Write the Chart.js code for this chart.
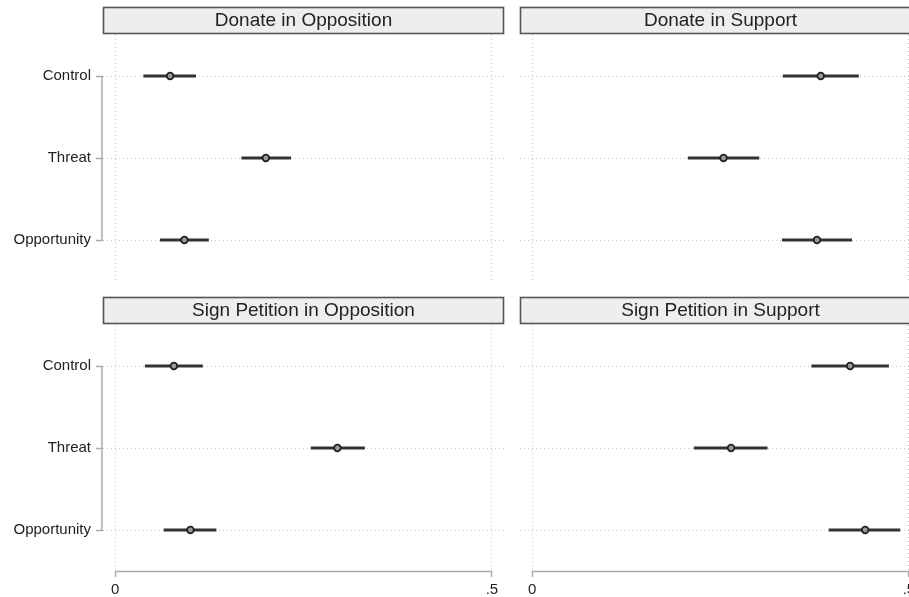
<!DOCTYPE html>
<html>
<head>
<meta charset="utf-8">
<script src="https://cdn.jsdelivr.net/npm/chart.js@4/dist/chart.umd.min.js"></script>
<style>
  html, body { margin: 0; padding: 0; background: #ffffff; overflow: hidden; width: 909px; height: 597px; }
  .panel { position: absolute; }
</style>
</head>
<body>
<div class="panel" style="left:0px;top:0px"><canvas id="p1" width="515" height="290"></canvas></div>
<div class="panel" style="left:417px;top:0px"><canvas id="p2" width="515" height="290"></canvas></div>
<div class="panel" style="left:0px;top:290px"><canvas id="p3" width="515" height="307"></canvas></div>
<div class="panel" style="left:417px;top:290px"><canvas id="p4" width="515" height="307"></canvas></div>
<script>
// Treatment groups (rows of every panel)
const categories = ['Control', 'Threat', 'Opportunity'];

// Panel titles
const panelTitles = ['Donate in Opposition', 'Donate in Support', 'Sign Petition in Opposition', 'Sign Petition in Support'];

// Point estimates and confidence bounds, one array per panel
const donateOppEst = [0.073, 0.200, 0.092];
const donateOppLo  = [0.038, 0.168, 0.060];
const donateOppHi  = [0.107, 0.233, 0.124];

const donateSupEst = [0.383, 0.254, 0.378];
const donateSupLo  = [0.333, 0.207, 0.332];
const donateSupHi  = [0.433, 0.301, 0.424];

const petitionOppEst = [0.078, 0.295, 0.100];
const petitionOppLo  = [0.040, 0.260, 0.065];
const petitionOppHi  = [0.116, 0.331, 0.134];

const petitionSupEst = [0.422, 0.264, 0.442];
const petitionSupLo  = [0.371, 0.215, 0.394];
const petitionSupHi  = [0.473, 0.312, 0.488];

// X axis ticks
const xTickValues = [0, 0.5];
const xTickLabels = ['0', '.5'];

Chart.defaults.font.family = "'Liberation Sans', Arial, Helvetica, sans-serif";
Chart.defaults.font.size = 15;
Chart.defaults.color = '#222222';

// Strip header above each plot area, plus partial axis lines
const panelDecor = {
  id: 'panelDecor',
  afterDraw(chart, args, opts) {
    const ctx = chart.ctx;
    const a = chart.chartArea;
    const xs = chart.scales.x, ys = chart.scales.y;
    ctx.save();
    // header strip
    const top = a.top - 28, h = 26;
    ctx.fillStyle = '#eeeeee';
    ctx.fillRect(a.left, top, a.right - a.left, h);
    ctx.strokeStyle = '#555555';
    ctx.lineWidth = 1.6;
    ctx.strokeRect(a.left + 0.5, top + 0.5, a.right - a.left - 1, h);
    ctx.fillStyle = '#222222';
    ctx.font = "19px 'Liberation Sans', Arial, sans-serif";
    ctx.textAlign = 'center';
    ctx.textBaseline = 'middle';
    ctx.fillText(opts.title, (a.left + a.right) / 2, top + h / 2 + 1);
    // y axis line between first and last category
    ctx.strokeStyle = '#aaaaaa';
    ctx.lineWidth = 1.5;
    if (opts.showY) {
      const y0 = ys.getPixelForValue(0), y1 = ys.getPixelForValue(categories.length - 1);
      ctx.beginPath();
      ctx.moveTo(a.left - 1, y0);
      ctx.lineTo(a.left - 1, y1);
      ctx.stroke();
    }
    // x axis line between first and last tick
    if (opts.showX) {
      const x0 = xs.getPixelForValue(xTickValues[0]);
      const x1 = xs.getPixelForValue(xTickValues[xTickValues.length - 1]);
      ctx.beginPath();
      ctx.moveTo(x0, a.bottom + 0.5);
      ctx.lineTo(x1, a.bottom + 0.5);
      ctx.stroke();
    }
    ctx.restore();
  }
};

function makePanel(id, title, est, lo, hi, showY, showX) {
  const gridColor = '#c8c8c8';
  return new Chart(document.getElementById(id), {
    data: {
      labels: categories,
      datasets: [
        {
          type: 'line',
          data: est,
          showLine: false,
          pointRadius: 3.3,
          pointBorderWidth: 1.8,
          pointBorderColor: '#222222',
          pointBackgroundColor: '#9a9a9a',
          order: 0
        },
        {
          type: 'bar',
          data: lo.map((v, i) => [v, hi[i]]),
          backgroundColor: '#333333',
          borderWidth: 0,
          barThickness: 2.5,
          borderSkipped: false,
          order: 1
        }
      ]
    },
    options: {
      indexAxis: 'y',
      responsive: false,
      animation: false,
      events: [],
      layout: { padding: { top: 35, right: 11, bottom: showX ? 0 : 9, left: 0 } },
      plugins: {
        legend: { display: false },
        tooltip: { enabled: false },
        panelDecor: { title: title, showY: showY, showX: showX }
      },
      scales: {
        x: {
          type: 'linear',
          min: -0.016,
          max: 0.516,
          afterBuildTicks(scale) { scale.ticks = xTickValues.map(v => ({ value: v })); },
          afterFit(scale) {
            scale.height = showX ? 26 : 0;
            scale.paddingLeft = 0;
            scale.paddingRight = 0;
          },
          border: { display: false, dash: [1, 3] },
          grid: {
            color: gridColor,
            lineWidth: 1,
            drawTicks: showX,
            tickLength: 6,
            tickColor: '#aaaaaa',
            tickWidth: 1.5,
            tickBorderDash: []
          },
          ticks: {
            display: showX,
            autoSkip: false,
            maxRotation: 0,
            padding: 4,
            color: '#222222',
            callback: (v) => xTickLabels[xTickValues.indexOf(v)]
          }
        },
        y: {
          type: 'category',
          offset: true,
          afterFit(scale) {
            scale.width = 103;
            scale.paddingTop = 0;
            scale.paddingBottom = 0;
          },
          border: { display: false, dash: [1, 3] },
          grid: {
            color: gridColor,
            lineWidth: 1,
            offset: false,
            drawTicks: showY,
            tickLength: 7,
            tickColor: '#aaaaaa',
            tickWidth: 1.5,
            tickBorderDash: []
          },
          ticks: {
            display: showY,
            padding: 5,
            color: '#222222'
          }
        }
      }
    },
    plugins: [panelDecor]
  });
}

makePanel('p1', panelTitles[0], donateOppEst, donateOppLo, donateOppHi, true, false);
makePanel('p2', panelTitles[1], donateSupEst, donateSupLo, donateSupHi, false, false);
makePanel('p3', panelTitles[2], petitionOppEst, petitionOppLo, petitionOppHi, true, true);
makePanel('p4', panelTitles[3], petitionSupEst, petitionSupLo, petitionSupHi, false, true);
</script>
</body>
</html>
